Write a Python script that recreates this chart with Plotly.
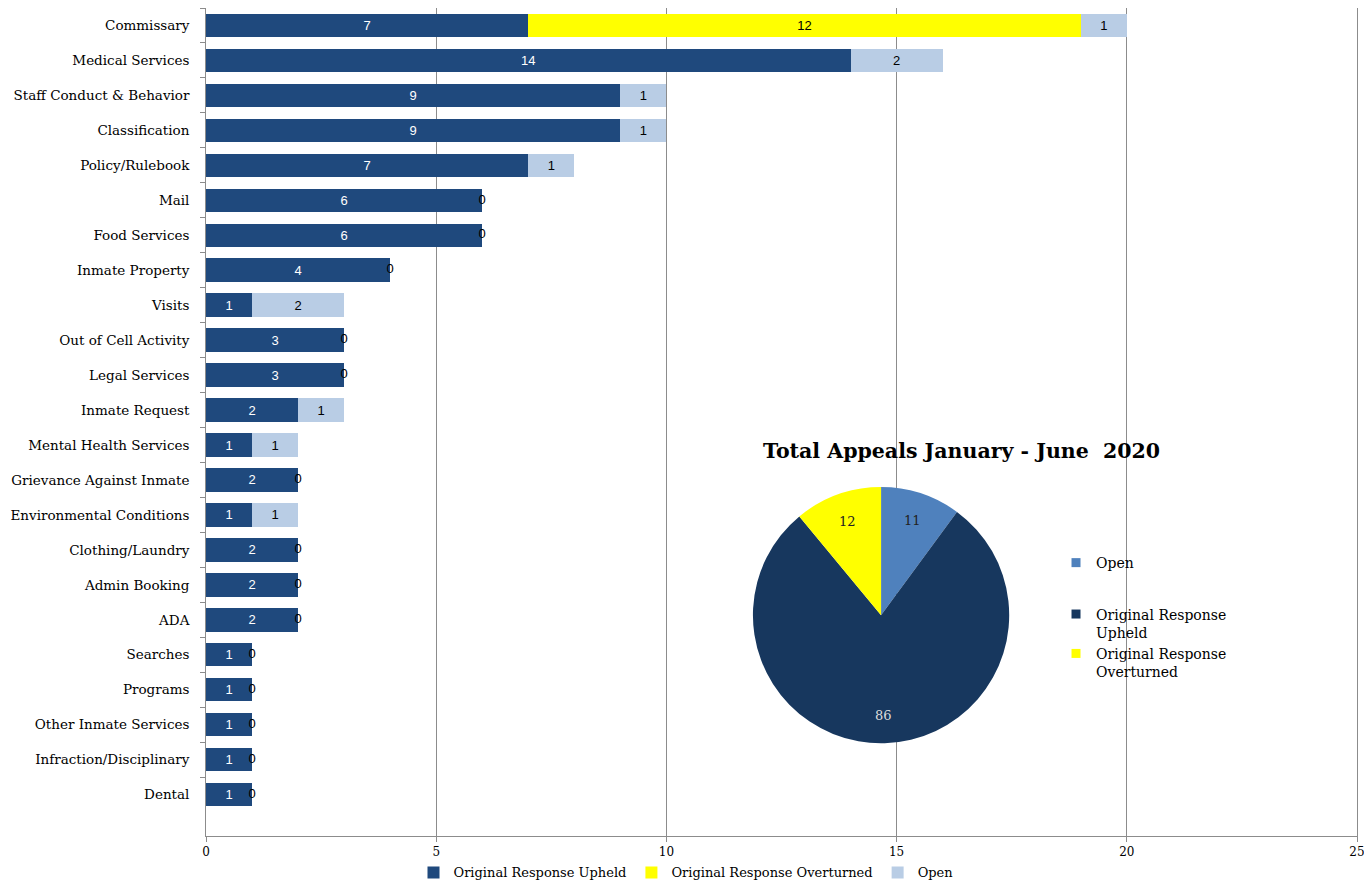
import math
import plotly.graph_objects as go

categories = ["Commissary", "Medical Services", "Staff Conduct & Behavior", "Classification",
              "Policy/Rulebook", "Mail", "Food Services", "Inmate Property", "Visits",
              "Out of Cell Activity", "Legal Services", "Inmate Request", "Mental Health Services",
              "Grievance Against Inmate", "Environmental Conditions", "Clothing/Laundry",
              "Admin Booking", "ADA", "Searches", "Programs", "Other Inmate Services",
              "Infraction/Disciplinary", "Dental"]
upheld = [7, 14, 9, 9, 7, 6, 6, 4, 1, 3, 3, 2, 1, 2, 1, 2, 2, 2, 1, 1, 1, 1, 1]
overturned = [12, 0, 0, 0, 0, 0, 0, 0, 0, 0, 0, 0, 0, 0, 0, 0, 0, 0, 0, 0, 0, 0, 0]
open_ = [1, 2, 1, 1, 1, 0, 0, 0, 2, 0, 0, 1, 1, 0, 1, 0, 0, 0, 0, 0, 0, 0, 0]

pie_labels = ["Open", "Original Response Upheld", "Original Response Overturned"]
pie_legend_labels = ["Open<br> ", "Original Response<br>Upheld", "Original Response<br>Overturned"]
pie_values = [sum(open_), sum(upheld), sum(overturned)]
pie_colors = ["#4F81BD", "#17375E", "#FFFF00"]
pie_text_colors = ["#222222", "#dddddd", "#222222"]

x_ticks = [0, 5, 10, 15, 20, 25]

SERIF = "DejaVu Serif"
SANS = "Liberation Sans"
DARK = "#1F497D"
YEL = "#FFFF00"
LIGHT = "#B9CDE5"

# page body has an 8px margin; size the figure so it fits the window exactly
W, H = 1356, 872
ML, MR, MT, MB = 198, 7, 0, 44
PW, PH = W - ML - MR, H - MT - MB

fig = go.Figure()

def lbl(vals):
    return [str(v) if v > 0 else "" for v in vals]

for vals, name, col, tcol in [(upheld, "Original Response Upheld", DARK, "white"),
                              (overturned, "Original Response Overturned", YEL, "black"),
                              (open_, "Open", LIGHT, "black")]:
    fig.add_trace(go.Bar(y=categories, x=vals, orientation="h", name=name,
                         marker=dict(color=col, line=dict(width=0)),
                         text=lbl(vals), textposition="inside", insidetextanchor="middle",
                         textangle=0, textfont=dict(family=SANS, size=13, color=tcol),
                         legend="legend"))

# zero labels for Open series at end of bars
zx = [u + o for u, o, p in zip(upheld, overturned, open_) if p == 0]
zy = [c for c, p in zip(categories, open_) if p == 0]
fig.add_trace(go.Scatter(x=zx, y=zy, mode="text", text=["0"] * len(zx),
                         textposition="middle center",
                         textfont=dict(family=SANS, size=13, color="black"),
                         showlegend=False, hoverinfo="skip"))

pie_dom_x = [0.475, 0.698]
pie_dom_y = [0.112, 0.4215]
fig.add_trace(go.Pie(labels=pie_labels, values=pie_values, sort=False, direction="clockwise",
                     rotation=0, marker=dict(colors=pie_colors, line=dict(width=0)),
                     textinfo="none", domain=dict(x=pie_dom_x, y=pie_dom_y),
                     showlegend=False))

# legend entries for the pie (separate groups so the spacing can follow the original)
for i, (lab, col) in enumerate(zip(pie_legend_labels, pie_colors)):
    fig.add_trace(go.Scatter(x=[None], y=[None], mode="markers", name=lab,
                             marker=dict(symbol="square", size=9, color=col),
                             legend="legend2", legendgroup="a" if i == 0 else "b",
                             hoverinfo="skip"))

# pie value labels placed like the original (near the rim)
cx = sum(pie_dom_x) / 2
cy = sum(pie_dom_y) / 2
R = min((pie_dom_x[1] - pie_dom_x[0]) * PW, (pie_dom_y[1] - pie_dom_y[0]) * PH) / 2
total = sum(pie_values)
cum = 0
for v, tc in zip(pie_values, pie_text_colors):
    th = 2 * math.pi * (cum + v / 2) / total
    cum += v
    fig.add_annotation(text=str(v), xref="paper", yref="paper",
                       x=cx + 0.78 * R * math.sin(th) / PW, y=cy + 0.78 * R * math.cos(th) / PH,
                       showarrow=False, xanchor="center", yanchor="middle",
                       font=dict(family=SERIF, size=13, color=tc))

fig.add_shape(type="rect", xref="paper", yref="paper", x0=0.468, x1=0.9957, y0=0.0797, y1=0.495,
              fillcolor="white", line=dict(width=0), layer="between")

fig.add_annotation(text="<b>Total Appeals January - June  2020</b>", xref="paper", yref="paper",
                   x=0.656, y=0.465, xanchor="center", yanchor="middle", showarrow=False,
                   font=dict(family=SERIF, size=20.5, color="black"))

fig.update_layout(
    width=W, height=H,
    margin=dict(l=ML, r=MR, t=MT, b=MB, autoexpand=False),
    paper_bgcolor="white", plot_bgcolor="white",
    barmode="stack", bargap=0.33,
    font=dict(family=SERIF, size=13, color="black"),
    xaxis=dict(range=[0, 25], tickvals=x_ticks, showgrid=True, gridcolor="#8c8c8c", gridwidth=1,
               showline=True, linecolor="#8c8c8c", ticks="outside", ticklen=5, tickcolor="#8c8c8c",
               tickfont=dict(family=SERIF, size=12), zeroline=False, automargin=False,
               ticklabeloverflow="allow"),
    yaxis=dict(categoryorder="array", categoryarray=categories, autorange="reversed",
               showline=True, mirror=True, linecolor="#8c8c8c", ticks="outside", ticklen=5,
               tickcolor="#8c8c8c", tickson="boundaries", showgrid=False,
               tickfont=dict(family=SERIF, size=13.5), ticksuffix="   ", automargin=False),
    legend=dict(orientation="h", xref="container", yref="paper", x=0.5, y=-0.044,
                xanchor="center", yanchor="middle", font=dict(family=SERIF, size=13),
                itemwidth=30, traceorder="normal", bgcolor="rgba(0,0,0,0)"),
    legend2=dict(x=0.7385, y=0.349, xanchor="left", yanchor="top", valign="top",
                 font=dict(family=SERIF, size=14), bgcolor="rgba(0,0,0,0)",
                 tracegroupgap=12, traceorder="grouped", itemclick=False),
)

fig.write_html("out.html")
